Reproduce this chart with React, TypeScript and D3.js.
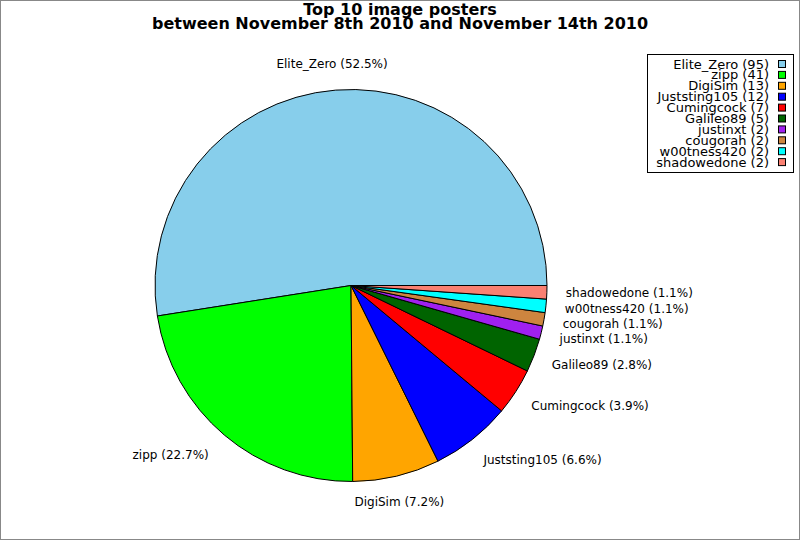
import React, {useEffect, useRef} from 'react';
import * as d3 from "d3";

const names = ["Elite_Zero", "zipp", "DigiSim", "Juststing105", "Cumingcock", "Galileo89", "justinxt", "cougorah", "w00tness420", "shadowedone"];
const counts = [95, 41, 13, 12, 7, 5, 2, 2, 2, 2];
const colors = ["#87ceeb", "#00ff00", "#ffa500", "#0000ff", "#ff0000", "#006400", "#a020f0", "#cd853f", "#00ffff", "#fa8072"];
const titleLines = ["Top 10 image posters", "between November 8th 2010 and November 14th 2010"];

const W = 800, H = 540;

export default function App() {
    const ref = useRef<SVGSVGElement>(null);

    useEffect(() => {
        const svg = d3.select(ref.current);
        svg.selectAll("*").remove();

        const cx = 351, cy = 285.5, r = 196, labelR = 217;
        const total = d3.sum(counts);
        const data = names.map((n, i) => ({name: n, value: counts[i], color: colors[i]}));

        // border
        svg.append("rect")
            .attr("x", 0.5).attr("y", 0.5)
            .attr("width", W - 1).attr("height", H - 1)
            .attr("fill", "white")
            .attr("stroke", "#888").attr("stroke-width", 1);

        // title
        svg.append("g").selectAll("text")
            .data(titleLines)
            .join("text")
            .attr("x", 400)
            .attr("y", (d, i) => 15 + i * 14)
            .attr("text-anchor", "middle")
            .attr("font-family", "DejaVu Sans")
            .attr("font-weight", "bold")
            .attr("font-size", 16)
            .text(d => d);

        // pie goes counter-clockwise from 3 o'clock
        const pie = d3.pie<any>().sort(null).value(d => d.value)
            .startAngle(Math.PI / 2).endAngle(Math.PI / 2 - 2 * Math.PI);
        const arcs = pie(data);
        const arc = d3.arc<any>().innerRadius(0).outerRadius(r);

        const g = svg.append("g").attr("transform", `translate(${cx},${cy})`);
        g.selectAll("path")
            .data(arcs)
            .join("path")
            .attr("d", arc)
            .attr("fill", d => d.data.color)
            .attr("stroke", "black")
            .attr("stroke-width", 1)
            .attr("stroke-linejoin", "round");

        // labels, text box pushed outward from the anchor point
        g.selectAll("text")
            .data(arcs)
            .join("text")
            .each(function (d) {
                const a = (d.startAngle + d.endAngle) / 2; // d3 angle: 0 = up, clockwise
                const s = Math.sin(a), c = Math.cos(a);
                const x = s * labelR - 2;
                const y = -c * labelR - c * 5;
                d3.select(this)
                    .attr("x", x)
                    .attr("y", y)
                    .attr("dy", "0.35em")
                    .attr("text-anchor", s > 0.3 ? "start" : s < -0.3 ? "end" : "middle");
            })
            .attr("font-family", "DejaVu Sans")
            .attr("font-size", 12)
            .text(d => `${d.data.name} (${(d.data.value / total * 100).toFixed(1)}%)`);

        // legend
        const lg = svg.append("g");
        lg.append("rect")
            .attr("x", 647.5).attr("y", 54.5)
            .attr("width", 146).attr("height", 118)
            .attr("fill", "white").attr("stroke", "black");
        const rowH = 10.9;
        const rows = lg.selectAll("g.row")
            .data(data)
            .join("g")
            .attr("transform", (d, i) => `translate(0,${64 + i * rowH})`);
        rows.append("text")
            .attr("x", 769)
            .attr("dy", "0.35em")
            .attr("text-anchor", "end")
            .attr("font-family", "DejaVu Sans")
            .attr("font-size", 13)
            .text(d => `${d.name} (${d.value})`);
        rows.append("rect")
            .attr("x", 778.5).attr("y", -3.5)
            .attr("width", 7).attr("height", 7)
            .attr("fill", d => d.color)
            .attr("stroke", "black");
    }, []);

    return (
        <div style={{position: "absolute", left: 0, top: 0}}>
            <svg ref={ref} width={W} height={H}></svg>
        </div>
    );
}
